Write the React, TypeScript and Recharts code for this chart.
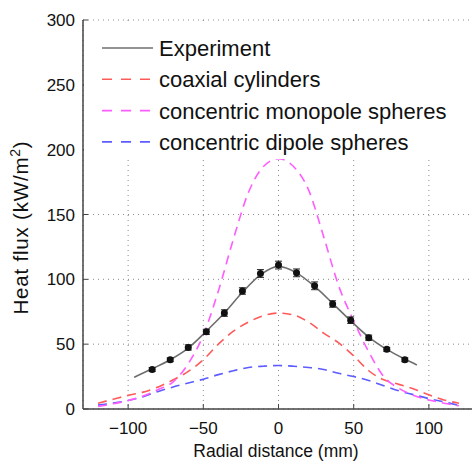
import React from "react";
import {
  ComposedChart,
  Line,
  Scatter,
  ErrorBar,
  XAxis,
  YAxis,
  CartesianGrid,
  Legend,
} from "recharts";

// model curves, sampled every 10 mm
const radial = [-120, -110, -100, -90, -80, -70, -60, -50, -40, -30, -20, -10, 0, 10, 20, 30, 40, 50, 60, 70, 80, 90, 100, 110, 120];
const coaxial = [4.5, 7.5, 10.5, 13, 17, 22.5, 29, 38, 50, 60, 67, 72, 74, 72.5, 67, 58.5, 51, 41, 29.5, 22.5, 19, 15.5, 11, 7, 4.5];
const monopole = [2, 4, 6.5, 10, 15, 21, 35, 57, 91, 131, 167, 187, 193, 187, 169, 133, 95, 68, 44, 25, 16, 10.5, 7, 4.5, 2.5];
const dipole = [3, 4.5, 6.5, 9.5, 13.5, 17, 20, 23, 26.5, 29.5, 32, 33, 33.5, 33, 32, 30.5, 27.5, 25, 22, 18, 14, 11, 8, 5.5, 2.8];

// measured points with error bars
const expX = [-84, -72, -60, -48, -36, -24, -12, 0, 12, 24, 36, 48, 60, 72, 84];
const expFlux = [30.5, 38, 47.5, 59.5, 74, 91, 104.5, 111, 105, 95, 81, 68.5, 55, 46, 38];
const expErr = [1.5, 1.5, 2, 2, 2.5, 2.5, 3, 3, 3, 3, 2.5, 2.5, 2, 1.5, 1.5];

// smooth fit through the measurements
const fitX = [-96, -84, -72, -60, -48, -36, -24, -12, 0, 12, 24, 36, 48, 60, 72, 84, 92];
const fitFlux = [24.5, 31, 38, 47, 60, 74, 90, 103.5, 110, 105, 94.5, 81.5, 68, 55.5, 46, 38.5, 34];

const xTicks = [-100, -50, 0, 50, 100];
const yTicks = [0, 50, 100, 150, 200, 250, 300];

const legendItems = [
  { name: "Experiment", color: "#6e6e6e", dash: undefined },
  { name: "coaxial cylinders", color: "#ff5a5a", dash: "10 9" },
  { name: "concentric monopole spheres", color: "#ff5cff", dash: "10 9" },
  { name: "concentric dipole spheres", color: "#5c5cff", dash: "10 9" },
];

const modelData = radial.map((r, i) => ({
  r,
  coaxial: coaxial[i],
  monopole: monopole[i],
  dipole: dipole[i],
}));
const expData = expX.map((r, i) => ({ r, flux: expFlux[i], err: expErr[i] }));
const fitData = fitX.map((r, i) => ({ r, flux: fitFlux[i] }));

const FONT = "'Liberation Sans', Arial, sans-serif";
const AXIS = "#444";
const TL = 5;

const fmt = (v: number) => (v < 0 ? `\u2212${Math.abs(v)}` : `${v}`);

const BottomTick = (p: any) => {
  const ay = p.y - 10;
  return (
    <g>
      <line x1={p.x} x2={p.x} y1={ay} y2={ay - TL} stroke={AXIS} />
      <text x={p.x} y={ay + 25} textAnchor="middle" fontSize={17} fill="#111" fontFamily={FONT}>
        {fmt(p.payload.value)}
      </text>
    </g>
  );
};

const LeftTick = (p: any) => {
  const ax = p.x + 10;
  return (
    <g>
      <line x1={ax} x2={ax + TL} y1={p.y} y2={p.y} stroke={AXIS} />
      <text x={ax - 8} y={p.y + 6} textAnchor="end" fontSize={17} fill="#111" fontFamily={FONT}>
        {p.payload.value}
      </text>
    </g>
  );
};

const TopTick = (p: any) => (
  <line x1={p.x} x2={p.x} y1={p.y} y2={p.y + TL} stroke={AXIS} />
);

const RightTick = (p: any) => (
  <line x1={p.x} x2={p.x - TL} y1={p.y} y2={p.y} stroke={AXIS} />
);

const Dot = (p: any) => <circle cx={p.cx} cy={p.cy} r={3.5} fill="#111" />;

const LegendBox = () => (
  <svg width={388} height={138} style={{ display: "block" }}>
    {legendItems.map((it, i) => {
      const cy = 27 + i * 31.3;
      return (
        <g key={it.name}>
          <line
            x1={18}
            x2={69}
            y1={cy}
            y2={cy}
            stroke={it.color}
            strokeWidth={1.6}
            strokeDasharray={it.dash}
          />
          <text x={75} y={cy + 8} fontSize={22} fill="#111" fontFamily={FONT}>
            {it.name}
          </text>
        </g>
      );
    })}
  </svg>
);

export default function App() {
  return (
    <div
      style={{
        position: "absolute",
        left: 0,
        top: 0,
        width: 472,
        height: 461,
        overflow: "hidden",
        background: "#fff",
        fontFamily: FONT,
      }}
    >
      <ComposedChart
        width={475}
        height={461}
        data={modelData}
        margin={{ top: 20, right: 1, bottom: 22, left: 23 }}
      >
        <CartesianGrid stroke="#8a8a8a" strokeDasharray="1 4" />
        <XAxis
          dataKey="r"
          type="number"
          domain={[-130, 130]}
          ticks={xTicks}
          interval={0}
          height={30}
          tickSize={0}
          tickMargin={10}
          tickLine={false}
          stroke={AXIS}
          strokeWidth={1.5}
          tick={<BottomTick />}
          label={{
            value: "Radial distance (mm)",
            position: "insideBottom",
            content: () => (
              <text x={276} y={457} textAnchor="middle" fontSize={17.5} fill="#111" fontFamily={FONT}>
                Radial distance (mm)
              </text>
            ),
          }}
        />
        <XAxis
          xAxisId="top"
          dataKey="r"
          type="number"
          orientation="top"
          domain={[-130, 130]}
          ticks={xTicks}
          interval={0}
          height={0}
          tickSize={0}
          tickMargin={0}
          tickLine={false}
          stroke={AXIS}
          strokeWidth={1.5}
          tick={<TopTick />}
        />
        <YAxis
          type="number"
          domain={[0, 300]}
          ticks={yTicks}
          interval={0}
          width={60}
          tickSize={0}
          tickMargin={10}
          tickLine={false}
          stroke={AXIS}
          strokeWidth={1.5}
          tick={<LeftTick />}
          label={{
            value: "Heat flux (kW/m2)",
            content: () => (
              <text
                transform="translate(27.5,227.5) rotate(-90)"
                textAnchor="middle"
                fontSize={20.5}
                letterSpacing={0.8}
                fill="#111"
                fontFamily={FONT}
              >
                Heat flux (kW/m
                <tspan fontSize={14} dy={-8}>2</tspan>
                <tspan dy={8}>)</tspan>
              </text>
            ),
          }}
        />
        <YAxis
          yAxisId="right"
          orientation="right"
          type="number"
          domain={[0, 300]}
          ticks={yTicks}
          interval={0}
          width={0}
          tickSize={0}
          tickMargin={0}
          tickLine={false}
          stroke={AXIS}
          strokeWidth={1.5}
          tick={<RightTick />}
        />
        <Legend
          layout="horizontal"
          verticalAlign="middle"
          align="center"
          content={<LegendBox />}
          wrapperStyle={{ top: 21, left: 84, width: 388, height: 138, background: "#fff" }}
        />
        <Line
          dataKey="coaxial"
          type="monotone"
          stroke="#ff5a5a"
          strokeWidth={1.6}
          strokeDasharray="9 6"
          dot={false}
          isAnimationActive={false}
        />
        <Line
          dataKey="dipole"
          type="monotone"
          stroke="#5c5cff"
          strokeWidth={1.6}
          strokeDasharray="9 6"
          dot={false}
          isAnimationActive={false}
        />
        <Line
          dataKey="monopole"
          type="monotone"
          stroke="#ff5cff"
          strokeWidth={1.6}
          strokeDasharray="9 6"
          dot={false}
          isAnimationActive={false}
        />
        <Line
          data={fitData}
          dataKey="flux"
          type="monotone"
          stroke="#6e6e6e"
          strokeWidth={1.6}
          dot={false}
          isAnimationActive={false}
        />
        <Scatter data={expData} dataKey="flux" shape={<Dot />} isAnimationActive={false}>
          <ErrorBar dataKey="err" direction="y" width={3.5} stroke="#222" strokeWidth={1} />
        </Scatter>
      </ComposedChart>
    </div>
  );
}
